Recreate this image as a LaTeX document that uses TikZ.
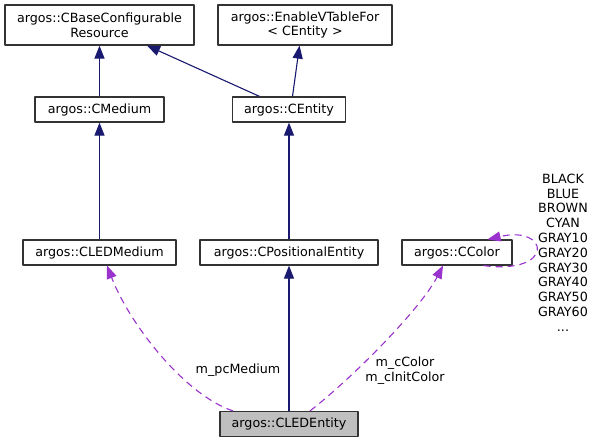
\documentclass[tikz,border=0pt]{standalone}
\usepackage{fontspec}
\setmainfont{DejaVu Sans}
\usetikzlibrary{arrows.meta}
\definecolor{edgeblue}{HTML}{191970}
\definecolor{edgepurple}{HTML}{9A32CD}
\definecolor{boxgray}{HTML}{BFBFBF}
\definecolor{boxline}{HTML}{333333}

\begin{document}
\begin{tikzpicture}[line join=round,x=1pt,y=-1pt,
  cls/.style={draw=boxline,line width=1.2pt,inner sep=0pt,minimum height=25pt,align=center,font=\fontsize{12.7}{14.8}\selectfont},
  inherit/.style={draw=edgeblue,line width=1.1pt,-{Triangle[length=13pt,width=10pt,fill=edgeblue]}},
  usage/.style={draw=edgepurple,line width=1.1pt,dash pattern=on 7pt off 5pt,-{Triangle[length=13pt,width=10pt,fill=edgepurple]}},
  lbl/.style={align=center,inner sep=0pt,font=\fontsize{12.7}{14.8}\selectfont}]

\useasboundingbox (0,0) rectangle (593,443);

\node [cls,minimum width=189pt,minimum height=40pt] (base) at (99.5,25) {argos::CBaseConfigurable\\Resource};
\node [cls,minimum width=174pt,minimum height=40pt] (vtable) at (305,25) {argos::EnableVTableFor\\< CEntity >};
\node [cls,minimum width=129pt] (medium) at (99.5,109.5) {argos::CMedium};
\node [cls,minimum width=113pt] (entity) at (289,109.5) {argos::CEntity};
\node [cls,minimum width=153pt] (ledmed) at (99.5,252.5) {argos::CLEDMedium};
\node [cls,minimum width=178pt] (posent) at (289,252.5) {argos::CPositionalEntity};
\node [cls,minimum width=110pt] (color) at (457,252.5) {argos::CColor};
\node [cls,minimum width=138pt,fill=boxgray] (ledent) at (289,424) {argos::CLEDEntity};

\draw [inherit] (medium.north) -- (base.south);
\draw [inherit] ([xshift=-29.5pt]entity.north) -- ([xshift=47.5pt]base.south);
\draw [inherit] ([xshift=3.5pt]entity.north) -- ([xshift=-5.5pt]vtable.south);
\draw [inherit] (ledmed.north) -- (medium.south);
\draw [inherit] (posent.north) -- (entity.south);
\draw [inherit] (ledent.north) -- (posent.south);

\draw [usage] ([xshift=-56pt]ledent.north) .. controls (185,395) and (130,325) .. ([xshift=7.5pt]ledmed.south);
\node [lbl] (medlbl) at (238,370) {m\_pcMedium};
\draw [usage] ([xshift=21pt]ledent.north) .. controls (350,380) and (420,310) .. ([xshift=-14pt]color.south);
\node [lbl] (colorlbl) at (405,370.5) {m\_cColor\\m\_cInitColor};
\draw [usage] ([xshift=-29pt]color.south east) .. controls (555,275) and (550,225) .. ([xshift=-25pt]color.north east);
\node [lbl] (enumlbl) at (563,252.5) {BLACK\\BLUE\\BROWN\\CYAN\\GRAY10\\GRAY20\\GRAY30\\GRAY40\\GRAY50\\GRAY60\\...};
\end{tikzpicture}
\end{document}
